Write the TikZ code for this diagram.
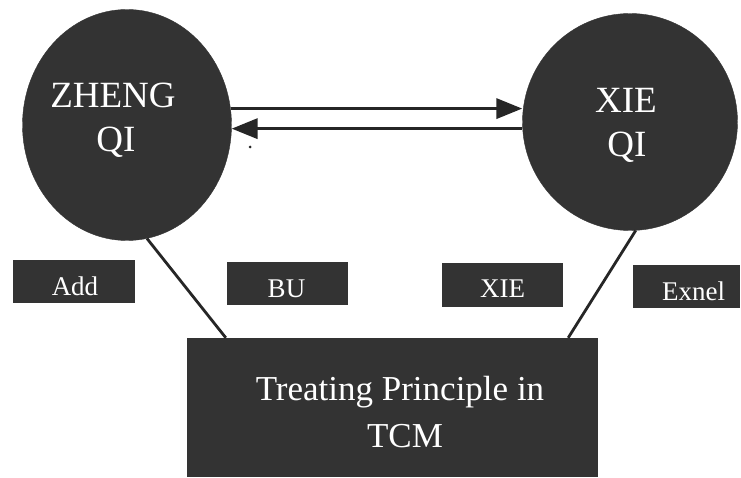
\documentclass[tikz,border=0pt]{standalone}
\usepackage{fontspec}
\newfontfamily\tnr{Liberation Serif}
\usetikzlibrary{shapes.geometric,arrows.meta,calc}
\definecolor{dk}{HTML}{333333}
\definecolor{ln}{HTML}{262626}
\begin{document}
\begin{tikzpicture}[x=1pt,y=-1pt,
  qi/.style={ellipse,fill=dk,draw=dk,inner sep=0},
  tag/.style={rectangle,fill=dk,inner sep=0},
  wtext/.style={text=white,inner sep=0,anchor=base},
  bigtxt/.style={wtext,font=\tnr\fontsize{37}{44}\selectfont},
  midtxt/.style={wtext,font=\tnr\fontsize{35}{42}\selectfont},
  smalltxt/.style={wtext,font=\tnr\fontsize{27}{32}\selectfont},
  arr/.style={draw=ln,line width=3.5pt,-{Triangle[length=26pt,width=20pt]}},
  link/.style={draw=ln,line width=2.8pt}]
\useasboundingbox[fill=white] (0,0) rectangle (741,478);

% circles
\node[qi,minimum width=209pt,minimum height=231pt] (zq) at (127,125) {};
\node[qi,minimum width=215pt,minimum height=217pt] (xq) at (630,122) {};
\node[bigtxt] (zq1) at (113,108) {ZHENG};
\node[bigtxt] (zq2) at (116,152) {QI};
\node[bigtxt] (xq1) at (626,113) {XIE};
\node[bigtxt] (xq2) at (627,157) {QI};

% bottom box
\node[tag,minimum width=411pt,minimum height=139pt] (tp) at (392.5,407.5) {};
\node[midtxt] (tp1) at (400,400) {Treating Principle in};
\node[midtxt] (tp2) at (405,447) {TCM};

% small boxes
\node[tag,minimum width=122pt,minimum height=43pt] (add) at (74,281.5) {};
\node[smalltxt] (addt) at (75,295) {Add};
\node[tag,minimum width=121pt,minimum height=43pt] (bu) at (287.5,283.5) {};
\node[smalltxt] (but) at (286.5,297) {BU};
\node[tag,minimum width=121pt,minimum height=44pt] (xie) at (502.5,285) {};
\node[smalltxt] (xiet) at (502.5,298) {XIE};
\node[tag,minimum width=107pt,minimum height=43pt] (exp) at (686.5,286.5) {};
\node[smalltxt] (expt) at (693.5,300) {Exnel};

% stray dot
\node[circle,fill=ln,inner sep=0,minimum size=3pt] (dot) at (250,147) {};

% connectors
\draw[arr] (zq.9) -- (zq.9 -| xq.west);
\draw[arr] (xq.west |- zq.-2) -- (zq.-2);
\draw[link] (zq.-80) -- ($(tp.north west)+(39,0)$);
\draw[link] (xq.-87) -- ($(tp.north east)+(-30,0)$);
\end{tikzpicture}
\end{document}
